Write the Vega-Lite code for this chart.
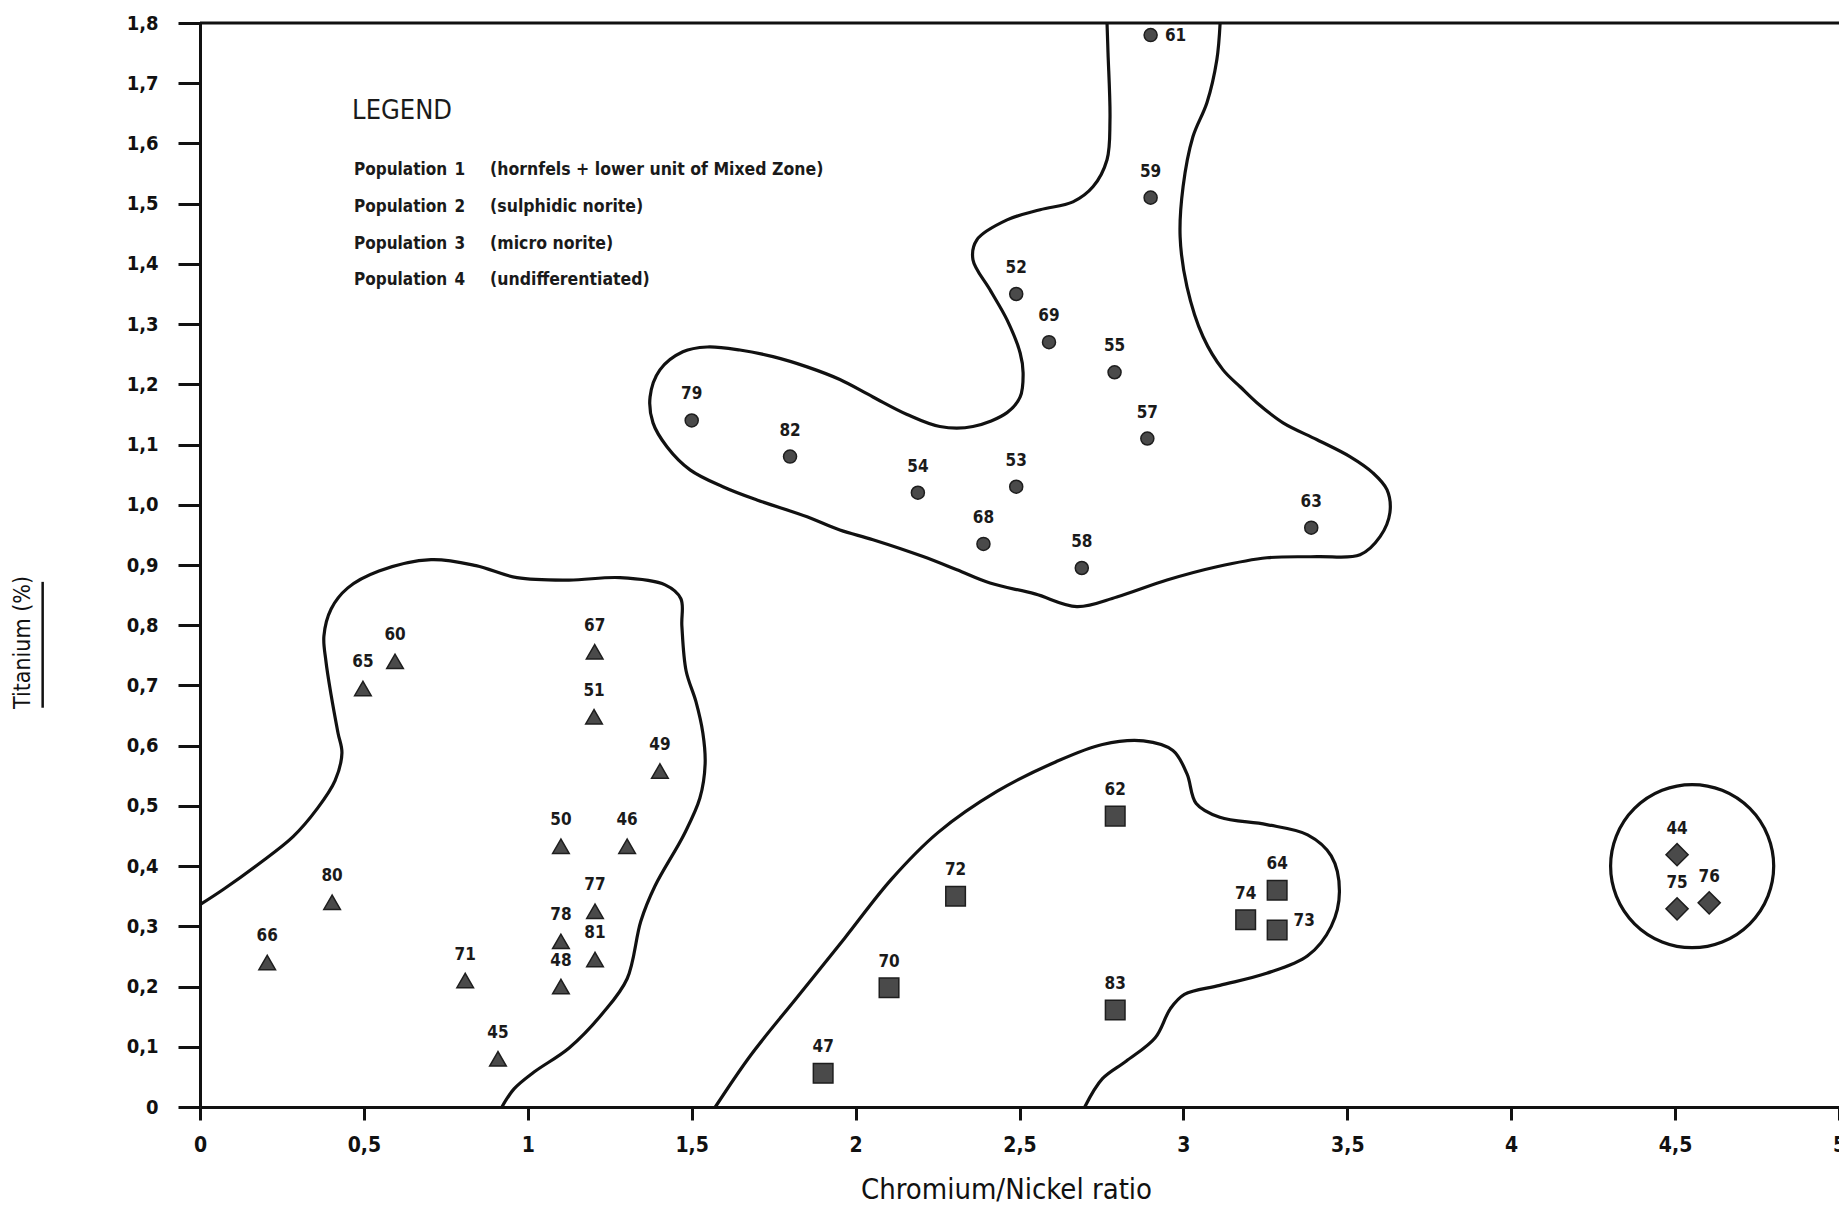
{
  "$schema": "https://vega.github.io/schema/vega-lite/v6.json",
  "width": 1639,
  "height": 1084,
  "autosize": {"type": "none"},
  "padding": {"left": 200, "top": 23, "right": 0, "bottom": 99},
  "background": "white",
  "config": {
    "view": {"stroke": null},
    "font": "DejaVu Sans Condensed",
    "axis": {"grid": false, "domainColor": "#111", "domainWidth": 3, "tickColor": "#111", "tickWidth": 3,
      "labelFont": "DejaVu Sans Condensed", "labelFontWeight": "bold", "labelColor": "#111",
      "titleFont": "DejaVu Sans Condensed", "titleFontWeight": "normal", "titleColor": "#111"}
  },
  "datasets": {
    "points": [
      {"id": 61, "pop": 1, "x": 2.9, "y": 1.78},
      {"id": 59, "pop": 1, "x": 2.9, "y": 1.51},
      {"id": 52, "pop": 1, "x": 2.49, "y": 1.35},
      {"id": 69, "pop": 1, "x": 2.59, "y": 1.27},
      {"id": 55, "pop": 1, "x": 2.79, "y": 1.22},
      {"id": 57, "pop": 1, "x": 2.89, "y": 1.11},
      {"id": 79, "pop": 1, "x": 1.5, "y": 1.14},
      {"id": 82, "pop": 1, "x": 1.8, "y": 1.08},
      {"id": 54, "pop": 1, "x": 2.19, "y": 1.02},
      {"id": 53, "pop": 1, "x": 2.49, "y": 1.03},
      {"id": 68, "pop": 1, "x": 2.39, "y": 0.935},
      {"id": 58, "pop": 1, "x": 2.69, "y": 0.895},
      {"id": 63, "pop": 1, "x": 3.39, "y": 0.962},
      {"id": 60, "pop": 2, "x": 0.595, "y": 0.74},
      {"id": 65, "pop": 2, "x": 0.497, "y": 0.695},
      {"id": 67, "pop": 2, "x": 1.204, "y": 0.756},
      {"id": 51, "pop": 2, "x": 1.202, "y": 0.648},
      {"id": 49, "pop": 2, "x": 1.403, "y": 0.558},
      {"id": 50, "pop": 2, "x": 1.101, "y": 0.433},
      {"id": 46, "pop": 2, "x": 1.303, "y": 0.433},
      {"id": 80, "pop": 2, "x": 0.403, "y": 0.34},
      {"id": 77, "pop": 2, "x": 1.205, "y": 0.325},
      {"id": 78, "pop": 2, "x": 1.101, "y": 0.275},
      {"id": 81, "pop": 2, "x": 1.205, "y": 0.245},
      {"id": 48, "pop": 2, "x": 1.101, "y": 0.2},
      {"id": 66, "pop": 2, "x": 0.205, "y": 0.24},
      {"id": 71, "pop": 2, "x": 0.809, "y": 0.21},
      {"id": 45, "pop": 2, "x": 0.909, "y": 0.08},
      {"id": 62, "pop": 3, "x": 2.792, "y": 0.483},
      {"id": 72, "pop": 3, "x": 2.305, "y": 0.35},
      {"id": 64, "pop": 3, "x": 3.286, "y": 0.36},
      {"id": 74, "pop": 3, "x": 3.19, "y": 0.311},
      {"id": 73, "pop": 3, "x": 3.286, "y": 0.294},
      {"id": 70, "pop": 3, "x": 2.102, "y": 0.198},
      {"id": 83, "pop": 3, "x": 2.792, "y": 0.161},
      {"id": 47, "pop": 3, "x": 1.901, "y": 0.056},
      {"id": 44, "pop": 4, "x": 4.506, "y": 0.419},
      {"id": 75, "pop": 4, "x": 4.506, "y": 0.329},
      {"id": 76, "pop": 4, "x": 4.604, "y": 0.339}
    ],
    "contours": [
      {"curve": "A", "order": 1, "x": 2.767, "y": 1.8},
      {"curve": "A", "order": 2, "x": 2.77, "y": 1.751},
      {"curve": "A", "order": 3, "x": 2.776, "y": 1.639},
      {"curve": "A", "order": 4, "x": 2.767, "y": 1.573},
      {"curve": "A", "order": 5, "x": 2.724, "y": 1.528},
      {"curve": "A", "order": 6, "x": 2.663, "y": 1.503},
      {"curve": "A", "order": 7, "x": 2.563, "y": 1.49},
      {"curve": "A", "order": 8, "x": 2.462, "y": 1.473},
      {"curve": "A", "order": 9, "x": 2.37, "y": 1.44},
      {"curve": "A", "order": 10, "x": 2.358, "y": 1.407},
      {"curve": "A", "order": 11, "x": 2.41, "y": 1.357},
      {"curve": "A", "order": 12, "x": 2.462, "y": 1.307},
      {"curve": "A", "order": 13, "x": 2.502, "y": 1.252},
      {"curve": "A", "order": 14, "x": 2.511, "y": 1.219},
      {"curve": "A", "order": 15, "x": 2.502, "y": 1.179},
      {"curve": "A", "order": 16, "x": 2.462, "y": 1.153},
      {"curve": "A", "order": 17, "x": 2.358, "y": 1.13},
      {"curve": "A", "order": 18, "x": 2.257, "y": 1.13},
      {"curve": "A", "order": 19, "x": 2.157, "y": 1.15},
      {"curve": "A", "order": 20, "x": 2.053, "y": 1.179},
      {"curve": "A", "order": 21, "x": 1.952, "y": 1.208},
      {"curve": "A", "order": 22, "x": 1.852, "y": 1.229},
      {"curve": "A", "order": 23, "x": 1.748, "y": 1.246},
      {"curve": "A", "order": 24, "x": 1.647, "y": 1.257},
      {"curve": "A", "order": 25, "x": 1.547, "y": 1.262},
      {"curve": "A", "order": 26, "x": 1.473, "y": 1.254},
      {"curve": "A", "order": 27, "x": 1.403, "y": 1.224},
      {"curve": "A", "order": 28, "x": 1.373, "y": 1.179},
      {"curve": "A", "order": 29, "x": 1.382, "y": 1.136},
      {"curve": "A", "order": 30, "x": 1.425, "y": 1.096},
      {"curve": "A", "order": 31, "x": 1.495, "y": 1.058},
      {"curve": "A", "order": 32, "x": 1.595, "y": 1.03},
      {"curve": "A", "order": 33, "x": 1.699, "y": 1.008},
      {"curve": "A", "order": 34, "x": 1.852, "y": 0.98},
      {"curve": "A", "order": 35, "x": 1.952, "y": 0.958},
      {"curve": "A", "order": 36, "x": 2.053, "y": 0.942},
      {"curve": "A", "order": 37, "x": 2.206, "y": 0.914},
      {"curve": "A", "order": 38, "x": 2.309, "y": 0.892},
      {"curve": "A", "order": 39, "x": 2.41, "y": 0.87},
      {"curve": "A", "order": 40, "x": 2.547, "y": 0.852},
      {"curve": "A", "order": 41, "x": 2.675, "y": 0.831},
      {"curve": "A", "order": 42, "x": 2.797, "y": 0.847},
      {"curve": "A", "order": 43, "x": 2.95, "y": 0.875},
      {"curve": "A", "order": 44, "x": 3.102, "y": 0.897},
      {"curve": "A", "order": 45, "x": 3.255, "y": 0.912},
      {"curve": "A", "order": 46, "x": 3.408, "y": 0.914},
      {"curve": "A", "order": 47, "x": 3.539, "y": 0.917},
      {"curve": "A", "order": 48, "x": 3.6, "y": 0.947},
      {"curve": "A", "order": 49, "x": 3.63, "y": 0.987},
      {"curve": "A", "order": 50, "x": 3.621, "y": 1.025},
      {"curve": "A", "order": 51, "x": 3.578, "y": 1.053},
      {"curve": "A", "order": 52, "x": 3.508, "y": 1.08},
      {"curve": "A", "order": 53, "x": 3.408, "y": 1.108},
      {"curve": "A", "order": 54, "x": 3.304, "y": 1.136},
      {"curve": "A", "order": 55, "x": 3.225, "y": 1.169},
      {"curve": "A", "order": 56, "x": 3.173, "y": 1.196},
      {"curve": "A", "order": 57, "x": 3.121, "y": 1.224},
      {"curve": "A", "order": 58, "x": 3.06, "y": 1.279},
      {"curve": "A", "order": 59, "x": 3.011, "y": 1.362},
      {"curve": "A", "order": 60, "x": 2.99, "y": 1.445},
      {"curve": "A", "order": 61, "x": 2.999, "y": 1.528},
      {"curve": "A", "order": 62, "x": 3.029, "y": 1.611},
      {"curve": "A", "order": 63, "x": 3.072, "y": 1.668},
      {"curve": "A", "order": 64, "x": 3.102, "y": 1.739},
      {"curve": "A", "order": 65, "x": 3.112, "y": 1.8},
      {"curve": "B", "order": 1, "x": 0, "y": 0.336},
      {"curve": "B", "order": 2, "x": 0.073, "y": 0.362},
      {"curve": "B", "order": 3, "x": 0.18, "y": 0.404},
      {"curve": "B", "order": 4, "x": 0.284, "y": 0.449},
      {"curve": "B", "order": 5, "x": 0.357, "y": 0.495},
      {"curve": "B", "order": 6, "x": 0.412, "y": 0.542},
      {"curve": "B", "order": 7, "x": 0.433, "y": 0.588},
      {"curve": "B", "order": 8, "x": 0.421, "y": 0.621},
      {"curve": "B", "order": 9, "x": 0.4, "y": 0.684},
      {"curve": "B", "order": 10, "x": 0.384, "y": 0.741},
      {"curve": "B", "order": 11, "x": 0.378, "y": 0.782},
      {"curve": "B", "order": 12, "x": 0.4, "y": 0.827},
      {"curve": "B", "order": 13, "x": 0.451, "y": 0.862},
      {"curve": "B", "order": 14, "x": 0.546, "y": 0.89},
      {"curve": "B", "order": 15, "x": 0.705, "y": 0.909},
      {"curve": "B", "order": 16, "x": 0.842, "y": 0.899},
      {"curve": "B", "order": 17, "x": 0.967, "y": 0.879},
      {"curve": "B", "order": 18, "x": 1.126, "y": 0.875},
      {"curve": "B", "order": 19, "x": 1.281, "y": 0.879},
      {"curve": "B", "order": 20, "x": 1.419, "y": 0.867},
      {"curve": "B", "order": 21, "x": 1.467, "y": 0.844},
      {"curve": "B", "order": 22, "x": 1.47, "y": 0.799},
      {"curve": "B", "order": 23, "x": 1.483, "y": 0.724},
      {"curve": "B", "order": 24, "x": 1.513, "y": 0.673},
      {"curve": "B", "order": 25, "x": 1.534, "y": 0.621},
      {"curve": "B", "order": 26, "x": 1.541, "y": 0.57},
      {"curve": "B", "order": 27, "x": 1.525, "y": 0.513},
      {"curve": "B", "order": 28, "x": 1.477, "y": 0.453},
      {"curve": "B", "order": 29, "x": 1.388, "y": 0.367},
      {"curve": "B", "order": 30, "x": 1.345, "y": 0.309},
      {"curve": "B", "order": 31, "x": 1.303, "y": 0.213},
      {"curve": "B", "order": 32, "x": 1.229, "y": 0.156},
      {"curve": "B", "order": 33, "x": 1.126, "y": 0.098},
      {"curve": "B", "order": 34, "x": 1.019, "y": 0.058},
      {"curve": "B", "order": 35, "x": 0.958, "y": 0.03},
      {"curve": "B", "order": 36, "x": 0.921, "y": 0},
      {"curve": "C", "order": 1, "x": 1.572, "y": 0},
      {"curve": "C", "order": 2, "x": 1.68, "y": 0.086},
      {"curve": "C", "order": 3, "x": 1.823, "y": 0.183},
      {"curve": "C", "order": 4, "x": 1.966, "y": 0.28},
      {"curve": "C", "order": 5, "x": 2.109, "y": 0.378},
      {"curve": "C", "order": 6, "x": 2.252, "y": 0.456},
      {"curve": "C", "order": 7, "x": 2.431, "y": 0.524},
      {"curve": "C", "order": 8, "x": 2.61, "y": 0.573},
      {"curve": "C", "order": 9, "x": 2.753, "y": 0.602},
      {"curve": "C", "order": 10, "x": 2.878, "y": 0.608},
      {"curve": "C", "order": 11, "x": 2.968, "y": 0.592},
      {"curve": "C", "order": 12, "x": 3.011, "y": 0.553},
      {"curve": "C", "order": 13, "x": 3.039, "y": 0.504},
      {"curve": "C", "order": 14, "x": 3.111, "y": 0.481},
      {"curve": "C", "order": 15, "x": 3.254, "y": 0.469},
      {"curve": "C", "order": 16, "x": 3.379, "y": 0.452},
      {"curve": "C", "order": 17, "x": 3.451, "y": 0.417},
      {"curve": "C", "order": 18, "x": 3.476, "y": 0.358},
      {"curve": "C", "order": 19, "x": 3.451, "y": 0.3},
      {"curve": "C", "order": 20, "x": 3.379, "y": 0.251},
      {"curve": "C", "order": 21, "x": 3.254, "y": 0.222},
      {"curve": "C", "order": 22, "x": 3.111, "y": 0.202},
      {"curve": "C", "order": 23, "x": 3.003, "y": 0.187},
      {"curve": "C", "order": 24, "x": 2.96, "y": 0.163},
      {"curve": "C", "order": 25, "x": 2.914, "y": 0.115},
      {"curve": "C", "order": 26, "x": 2.825, "y": 0.076},
      {"curve": "C", "order": 27, "x": 2.753, "y": 0.047},
      {"curve": "C", "order": 28, "x": 2.699, "y": 0}
    ],
    "enclosure": [{"x": 4.552, "y": 0.4}]
  },
  "layer": [
    {
      "data": {"name": "contours"},
      "mark": {"type": "line", "interpolate": "catmull-rom", "color": "#111", "strokeWidth": 3.2},
      "encoding": {
        "x": {"field": "x", "type": "quantitative", "scale": {"domain": [0, 5], "nice": false, "zero": false},
          "axis": {"values": [0, 0.5, 1, 1.5, 2, 2.5, 3, 3.5, 4, 4.5, 5], "labelExpr": "replace(format(datum.value, '~g'), '.', ',')",
            "labelFlush": false, "labelOverlap": false, "tickSize": 13, "labelPadding": 14, "labelFontSize": 21,
            "title": "Chromium/Nickel ratio", "titleFontSize": 29, "titlePadding": 20, "titleX": 806}},
        "y": {"field": "y", "type": "quantitative", "scale": {"domain": [0, 1.8], "nice": false, "zero": false},
          "axis": {"values": [0, 0.1, 0.2, 0.3, 0.4, 0.5, 0.6, 0.7, 0.8, 0.9, 1.0, 1.1, 1.2, 1.3, 1.4, 1.5, 1.6, 1.7, 1.8],
            "labelExpr": "datum.value == 0 ? '0' : replace(format(datum.value, '.1f'), '.', ',')",
            "labelFlush": false, "labelOverlap": false, "tickSize": 22, "labelPadding": 20, "labelFontSize": 20,
            "title": "Titanium (%)", "titleFontSize": 23, "titleAngle": -90, "titleX": -178, "titleY": 619,
            "titleAlign": "center", "titleBaseline": "middle"}},
        "detail": {"field": "curve"},
        "order": {"field": "order", "type": "quantitative"}
      }
    },
    {
      "data": {"name": "enclosure"},
      "mark": {"type": "point", "shape": "circle", "filled": false, "size": 26600, "stroke": "#111", "strokeWidth": 3.2, "opacity": 1},
      "encoding": {"x": {"field": "x", "type": "quantitative"}, "y": {"field": "y", "type": "quantitative"}}
    },
    {
      "data": {"values": [{}]},
      "mark": {"type": "rule", "color": "#111", "strokeWidth": 3},
      "encoding": {"x": {"datum": 0}, "x2": {"datum": 5}, "y": {"datum": 1.8}}
    },
    {
      "data": {"values": [{}]},
      "mark": {"type": "rule", "color": "#111", "strokeWidth": 2.5},
      "encoding": {"x": {"datum": -0.48}, "y": {"datum": 0.872}, "y2": {"datum": 0.663}}
    },
    {
      "data": {"name": "points"},
      "mark": {"type": "point", "filled": true, "fill": "#4a4a4a", "stroke": "#1e1e1e", "strokeWidth": 1.5, "opacity": 1},
      "encoding": {
        "x": {"field": "x", "type": "quantitative"},
        "y": {"field": "y", "type": "quantitative"},
        "shape": {"field": "pop", "type": "ordinal", "scale": {"domain": [1, 2, 3, 4], "range": ["circle", "triangle-up", "square", "diamond"]}, "legend": null},
        "size": {"field": "pop", "type": "ordinal", "scale": {"domain": [1, 2, 3, 4], "range": [170, 490, 360, 400]}, "legend": null}
      }
    },
    {
      "data": {"name": "points"},
      "transform": [{"filter": "datum.id != 61 && datum.id != 73"}],
      "mark": {"type": "text", "font": "DejaVu Sans Condensed", "fontWeight": "bold", "fontSize": 17, "color": "#1a1a1a", "dy": -26, "baseline": "middle"},
      "encoding": {"x": {"field": "x", "type": "quantitative"}, "y": {"field": "y", "type": "quantitative"}, "text": {"field": "id"}}
    },
    {
      "data": {"name": "points"},
      "transform": [{"filter": "datum.id == 61"}],
      "mark": {"type": "text", "font": "DejaVu Sans Condensed", "fontWeight": "bold", "fontSize": 17, "color": "#1a1a1a", "dx": 25, "dy": 1, "baseline": "middle"},
      "encoding": {"x": {"field": "x", "type": "quantitative"}, "y": {"field": "y", "type": "quantitative"}, "text": {"field": "id"}}
    },
    {
      "data": {"name": "points"},
      "transform": [{"filter": "datum.id == 73"}],
      "mark": {"type": "text", "font": "DejaVu Sans Condensed", "fontWeight": "bold", "fontSize": 17, "color": "#1a1a1a", "dx": 27, "dy": -9, "baseline": "middle"},
      "encoding": {"x": {"field": "x", "type": "quantitative"}, "y": {"field": "y", "type": "quantitative"}, "text": {"field": "id"}}
    },
    {
      "data": {"values": [{}]},
      "mark": {"type": "text", "font": "DejaVu Sans Condensed", "fontWeight": "normal", "fontSize": 27, "color": "#1a1a1a", "align": "left", "baseline": "alphabetic"},
      "encoding": {"x": {"datum": 0.464}, "y": {"datum": 1.641}, "text": {"value": "LEGEND"}}
    },
    {
      "data": {"values": [{}]},
      "mark": {"type": "text", "font": "DejaVu Sans Condensed", "fontWeight": "bold", "fontSize": 17, "color": "#1a1a1a", "align": "left", "baseline": "alphabetic", "lineHeight": 36.7},
      "encoding": {"x": {"datum": 0.47}, "y": {"datum": 1.547}, "text": {"value": ["Population", "Population", "Population", "Population"]}}
    },
    {
      "data": {"values": [{}]},
      "mark": {"type": "text", "font": "DejaVu Sans Condensed", "fontWeight": "bold", "fontSize": 17, "color": "#1a1a1a", "align": "center", "baseline": "alphabetic", "lineHeight": 36.7},
      "encoding": {"x": {"datum": 0.793}, "y": {"datum": 1.547}, "text": {"value": ["1", "2", "3", "4"]}}
    },
    {
      "data": {"values": [{}]},
      "mark": {"type": "text", "font": "DejaVu Sans Condensed", "fontWeight": "bold", "fontSize": 17.5, "color": "#1a1a1a", "align": "left", "baseline": "alphabetic", "lineHeight": 36.7},
      "encoding": {"x": {"datum": 0.885}, "y": {"datum": 1.547}, "text": {"value": ["(hornfels + lower unit of Mixed Zone)", "(sulphidic norite)", "(micro norite)", "(undifferentiated)"]}}
    }
  ]
}
